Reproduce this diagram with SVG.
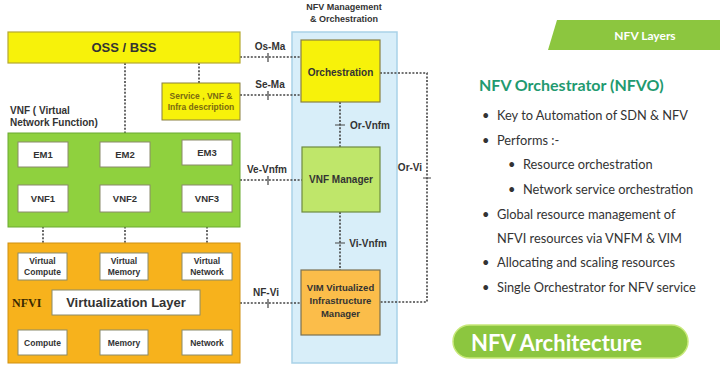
<svg xmlns="http://www.w3.org/2000/svg" width="720" height="372" viewBox="0 0 720 372">
<style>
.b{font-family:"Liberation Sans",Arial,sans-serif;font-weight:bold;fill:#333;text-anchor:middle}
.w{fill:#fff;stroke:#8a8a6a;stroke-width:1}
.d{stroke:#444;stroke-width:1.6;stroke-dasharray:2 1.6;fill:none}
.t{stroke:#444;stroke-width:1.2}
.r{font-family:Lato,"Open Sans",sans-serif;font-size:12.8px;fill:#333}
</style>
<rect width="720" height="372" fill="#fff"/>
<!-- MANO panel -->
<g id="mano">
<rect x="292" y="32" width="105" height="331" fill="#d8eef9" stroke="#a9d2e8" stroke-width="1.5"/>
<text class="b" x="344" y="10" font-size="9">NFV Management</text>
<text class="b" x="344" y="22" font-size="9">&amp; Orchestration</text>
</g>
<g id="connectors">
<path class="d" d="M125 63V133M199 63V83M240 57H301M240 95H301M240 180H302M240 303H301"/>
<path class="d" d="M43 167V185M125 167V185M207 165V185M43 212V243M125 212V243M207 212V243"/>
<path class="d" d="M340 102V147M340 212V270M380 73H427V302H380"/>
<path class="t" d="M268 53V62M268 91V100M268 176V185M268 299V308M335 125H345M335 243H345M423 178H431"/>
<text class="b" x="270" y="50" font-size="10">Os-Ma</text>
<text class="b" x="270" y="88" font-size="10">Se-Ma</text>
<text class="b" x="267" y="173" font-size="10">Ve-Vnfm</text>
<text class="b" x="266" y="296" font-size="10">NF-Vi</text>
<text class="b" x="370" y="129" font-size="10">Or-Vnfm</text>
<text class="b" x="368" y="247" font-size="10">Vi-Vnfm</text>
<text class="b" x="410" y="171" font-size="10">Or-Vi</text>
</g>
<g id="oss">
<rect x="8" y="32" width="232" height="31" fill="#f7f20a" stroke="#b5a830" stroke-width="1.2"/>
<text class="b" x="124" y="52" font-size="13">OSS / BSS</text>
</g>
<g id="service">
<rect x="162" y="83" width="78" height="37" fill="#f7f20a" stroke="#8a8040" stroke-width="1"/>
<text class="b" x="201" y="99" font-size="8.5" style="fill:#7a6a10">Service , VNF &amp;</text>
<text class="b" x="201" y="110" font-size="8.5" style="fill:#7a6a10">Infra description</text>
</g>
<g id="vnf-label">
<text class="b" x="10" y="114" font-size="10" style="text-anchor:start">VNF ( Virtual</text>
<text class="b" x="10" y="126" font-size="10" style="text-anchor:start">Network Function)</text>
</g>
<g id="vnf">
<rect x="8" y="133" width="232" height="94" fill="#8fd13e" stroke="#6aaa30" stroke-width="1"/>
<rect class="w" x="18" y="142" width="50" height="25"/>
<rect class="w" x="100" y="142" width="50" height="25"/>
<rect class="w" x="182" y="140" width="50" height="25"/>
<rect class="w" x="18" y="185" width="50" height="27"/>
<rect class="w" x="100" y="185" width="50" height="27"/>
<rect class="w" x="182" y="185" width="50" height="27"/>
<text class="b" x="43" y="158" font-size="9.5">EM1</text>
<text class="b" x="125" y="158" font-size="9.5">EM2</text>
<text class="b" x="207" y="156" font-size="9.5">EM3</text>
<text class="b" x="43" y="202" font-size="9.5">VNF1</text>
<text class="b" x="125" y="202" font-size="9.5">VNF2</text>
<text class="b" x="207" y="202" font-size="9.5">VNF3</text>
</g>
<g id="nfvi">
<rect x="8" y="243" width="232" height="120" fill="#f7b21c" stroke="#d09010" stroke-width="1"/>
<rect class="w" x="18" y="253" width="49" height="27"/>
<rect class="w" x="100" y="253" width="48" height="27"/>
<rect class="w" x="182" y="253" width="50" height="27"/>
<text class="b" x="42.5" y="264" font-size="8.5">Virtual</text>
<text class="b" x="42.5" y="275" font-size="8.5">Compute</text>
<text class="b" x="124" y="264" font-size="8.5">Virtual</text>
<text class="b" x="124" y="275" font-size="8.5">Memory</text>
<text class="b" x="207" y="264" font-size="8.5">Virtual</text>
<text class="b" x="207" y="275" font-size="8.5">Network</text>
<rect class="w" x="52" y="290" width="148" height="25"/>
<text class="b" x="126" y="307" font-size="13">Virtualization Layer</text>
<text x="12" y="307" font-family="Liberation Serif,serif" font-weight="bold" font-size="12" fill="#3a2a00">NFVI</text>
<rect class="w" x="18" y="330" width="49" height="25"/>
<rect class="w" x="100" y="330" width="48" height="25"/>
<rect class="w" x="182" y="330" width="50" height="25"/>
<text class="b" x="42.5" y="346" font-size="8.5">Compute</text>
<text class="b" x="124" y="346" font-size="8.5">Memory</text>
<text class="b" x="207" y="346" font-size="8.5">Network</text>
</g>
<g id="orchestration">
<rect x="301" y="40" width="79" height="62" fill="#f7f20a" stroke="#8a8040" stroke-width="1.2"/>
<text class="b" x="340.5" y="76" font-size="10">Orchestration</text>
</g>
<g id="vnfm">
<rect x="302" y="147" width="78" height="65" fill="#bfe66a" stroke="#6e8a40" stroke-width="1.2"/>
<text class="b" x="341" y="183" font-size="10">VNF Manager</text>
</g>
<g id="vim">
<rect x="301" y="270" width="79" height="65" fill="#fbbd4a" stroke="#7a7050" stroke-width="1.2"/>
<text class="b" x="340.5" y="291" font-size="9.5">VIM Virtualized</text>
<text class="b" x="340.5" y="304" font-size="9.5">Infrastructure</text>
<text class="b" x="340.5" y="317" font-size="9.5">Manager</text>
</g>
<g id="layers-banner">
<path d="M557 20H720V50H548Z" fill="#8cc63f"/>
<text x="645" y="40" font-family="Lato,sans-serif" font-weight="bold" font-size="12" fill="#fff" text-anchor="middle">NFV Layers</text>
</g>
<g id="nfvo-text">
<text x="479" y="91" font-family="Lato,sans-serif" font-weight="bold" font-size="16" fill="#1f9a70">NFV Orchestrator (NFVO)</text>
<g class="r">
<text x="482" y="120">•</text><text x="497" y="120">Key to Automation of SDN &amp; NFV</text>
<text x="482" y="145">•</text><text x="497" y="145">Performs :-</text>
<text x="508" y="169">•</text><text x="523" y="169">Resource orchestration</text>
<text x="508" y="194">•</text><text x="523" y="194">Network service orchestration</text>
<text x="482" y="219">•</text><text x="497" y="219">Global resource management of</text>
<text x="497" y="243">NFVI resources via VNFM &amp; VIM</text>
<text x="482" y="267">•</text><text x="497" y="267">Allocating and scaling resources</text>
<text x="482" y="292">•</text><text x="497" y="292">Single Orchestrator for NFV service</text>
</g>
</g>
<g id="arch-pill">
<rect x="453" y="325" width="235" height="33" rx="16.5" fill="#8cc63f" stroke="#c8e87a" stroke-width="1.5"/>
<text x="471" y="351" font-family="Lato,sans-serif" font-weight="bold" font-size="22" fill="#fff">NFV Architecture</text>
</g>
</svg>
